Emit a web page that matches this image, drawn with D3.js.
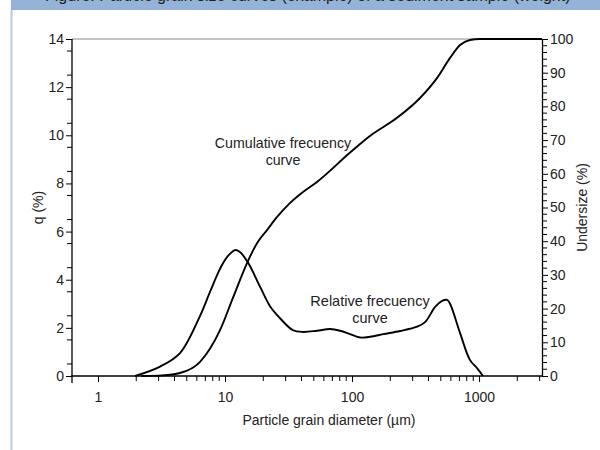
<!DOCTYPE html>
<html>
<head>
<meta charset="utf-8">
<script src="https://cdn.jsdelivr.net/npm/d3@7"></script>
<style>
  body { margin: 0; background: #fff; }
  svg { display: block; font-family: "Liberation Sans", Arial, sans-serif; }
</style>
</head>
<body>
<div id="chart"></div>
<script>
// relative frequency curve (q %)
var relDiam = [1.96, 3.08, 4.42, 6.36, 7.62, 9.13, 10.4, 12.0, 13.1, 15.2, 18.9, 22.6, 27.1, 34.3, 41.1, 53, 67.1, 80.5, 96.5, 116, 139, 176, 239, 325, 376, 451, 512, 560, 591, 709, 849, 964, 1075];
var relQ    = [0, 0.39, 0.95, 2.5, 3.5, 4.45, 4.95, 5.23, 5.15, 4.7, 3.7, 2.9, 2.4, 1.9, 1.83, 1.88, 1.95, 1.88, 1.74, 1.6, 1.63, 1.74, 1.87, 2.05, 2.24, 2.87, 3.12, 3.16, 3.0, 1.78, 0.66, 0.33, 0];

// cumulative curve (undersize %)
var cumDiam = [2.2, 3.0, 4.42, 6.36, 9.13, 11.6, 14.9, 17.9, 21.4, 25.7, 32.4, 41.1, 53, 96.5, 139, 226, 343, 466, 591, 709, 849, 1015, 3130];
var cumU    = [0, 0.1, 0.9, 4.2, 13.6, 23.4, 33.5, 39.5, 43.3, 47.2, 51.3, 54.6, 57.6, 66.3, 71.3, 76.6, 82.5, 88.4, 94.4, 98.2, 99.7, 100, 100];

var xMajor = [1, 10, 100, 1000];
var qTicks = [0, 2, 4, 6, 8, 10, 12, 14];
var uTicks = [0, 10, 20, 30, 40, 50, 60, 70, 80, 90, 100];

var W = 600, H = 450;
var pL = 72, pR = 542, pT = 39, pB = 376;
var FONT = "'Liberation Sans', Arial, sans-serif";

var svg = d3.select("#chart").append("svg")
    .attr("width", W).attr("height", H);

// page frame bits: caption strip and left rule
var defs = svg.append("defs");
defs.append("clipPath").attr("id", "capclip")
    .append("rect").attr("x", 0).attr("y", 0).attr("width", W).attr("height", 10);
svg.append("rect").attr("x", 11).attr("y", 0).attr("width", W - 11).attr("height", 10).attr("fill", "#95b3d7");
svg.append("g").attr("clip-path", "url(#capclip)")
  .append("text")
    .attr("x", 45).attr("y", 0.5).attr("font-size", 16).attr("fill", "#222")
    .text("Figure: Particle grain size curves (example) of a sediment sample (weight)");
svg.append("line").attr("x1", 11.5).attr("x2", 11.5).attr("y1", 10).attr("y2", H)
    .attr("stroke", "#b8cce4").attr("stroke-width", 2);

var x = d3.scaleLog().domain([0.624, 3130]).range([pL, pR]);
var yq = d3.scaleLinear().domain([0, 14]).range([pB, pT]);
var yu = d3.scaleLinear().domain([0, 100]).range([pB, pT]);

// minor x ticks 2..9 per decade
var xMinor = [];
[1, 10, 100, 1000].forEach(function(d) {
  for (var k = 2; k <= 9; k++) if (d * k < 3130) xMinor.push(d * k);
});

var fmt = function(d) { return d; };

// top frame
svg.append("line").attr("x1", pL).attr("x2", pR).attr("y1", pT).attr("y2", pT)
    .attr("stroke", "#8a8a8a").attr("stroke-width", 1.2);

// x axis
var gx = svg.append("g").attr("transform", "translate(0," + pB + ")");
gx.call(d3.axisBottom(x).tickValues(xMajor).tickFormat(fmt).tickSizeInner(6).tickSizeOuter(0));
gx.append("g").selectAll("line").data(xMinor).enter().append("line")
    .attr("x1", function(d) { return x(d); }).attr("x2", function(d) { return x(d); })
    .attr("y1", 0).attr("y2", 5).attr("stroke", "#000");

// left axis
var gl = svg.append("g").attr("transform", "translate(" + pL + ",0)");
gl.call(d3.axisLeft(yq).tickValues(qTicks).tickFormat(fmt).tickSizeInner(6).tickSizeOuter(0));
gl.append("g").selectAll("line").data(d3.range(0.5, 14, 1)).enter().append("line")
    .attr("x1", -5).attr("x2", 0)
    .attr("y1", function(d) { return yq(d); }).attr("y2", function(d) { return yq(d); })
    .attr("stroke", "#000");

// right axis
var gr = svg.append("g").attr("transform", "translate(" + pR + ",0)");
gr.call(d3.axisRight(yu).tickValues(uTicks).tickFormat(fmt).tickSizeInner(6).tickSizeOuter(0));
gr.append("g").selectAll("line").data(d3.range(0, 100, 2).filter(function(d) { return d % 10 != 0; })).enter().append("line")
    .attr("x1", 0).attr("x2", 5)
    .attr("y1", function(d) { return yu(d); }).attr("y2", function(d) { return yu(d); })
    .attr("stroke", "#000");

[gx, gl, gr].forEach(function(g) { g.attr("font-size", 14).attr("font-family", FONT); });
svg.selectAll(".tick text").attr("fill", "#222");
gx.selectAll(".tick text").attr("dy", "1.2em");
gl.selectAll(".tick text").attr("dx", "1px");
gr.selectAll(".tick text").attr("dx", "-1px");
svg.selectAll(".domain").attr("stroke-width", 1.3);
gx.select(".domain").attr("d", "M" + (pL - 1) + ",0H" + pR);
gl.select(".domain").attr("d", "M0," + pT + "V" + (pB + 7));

// curves
var relLine = d3.line()
    .x(function(d, i) { return x(relDiam[i]); })
    .y(function(d) { return yq(d); })
    .curve(d3.curveCatmullRom.alpha(0.5));
var cumLine = d3.line()
    .x(function(d, i) { return x(cumDiam[i]); })
    .y(function(d) { return yu(d); })
    .curve(d3.curveMonotoneX);

svg.append("path").attr("d", relLine(relQ)).attr("fill", "none").attr("stroke", "#000").attr("stroke-width", 1.9);
svg.append("path").attr("d", cumLine(cumU)).attr("fill", "none").attr("stroke", "#000").attr("stroke-width", 1.9);

// annotations
function label(cx, y, lines, fs) {
  var t = svg.append("text").attr("text-anchor", "middle").attr("font-size", fs).attr("fill", "#222");
  lines.forEach(function(s, i) {
    t.append("tspan").attr("x", cx).attr("y", y + i * 17).text(s);
  });
}
label(283, 148, ["Cumulative frecuency", "curve"], 14.2);
label(370, 306, ["Relative frecuency", "curve"], 14.5);

// axis titles
svg.append("text").attr("x", 329).attr("y", 425).attr("text-anchor", "middle")
    .attr("font-size", 14).attr("fill", "#222").text("Particle grain diameter (µm)");
svg.append("text").attr("transform", "translate(43," + ((pT + pB) / 2) + ") rotate(-90)")
    .attr("text-anchor", "middle").attr("font-size", 14).attr("fill", "#222").text("q (%)");
svg.append("text").attr("transform", "translate(587," + ((pT + pB) / 2) + ") rotate(-90)")
    .attr("text-anchor", "middle").attr("font-size", 14).attr("fill", "#222").text("Undersize (%)");
</script>
</body>
</html>
